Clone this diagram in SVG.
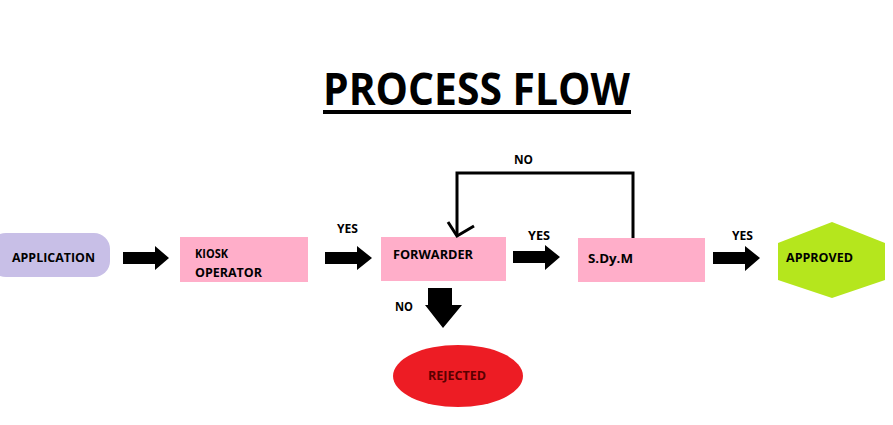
<svg xmlns="http://www.w3.org/2000/svg" width="893" height="425" viewBox="0 0 893 425">
<style>
.t{font-family:"Open Sans","Liberation Sans",sans-serif;font-weight:bold;fill:#000;font-size:12px}
.arr{fill:#000}
</style>
<rect width="893" height="425" fill="#fff"/>
<g id="title">
<text x="323" y="105" font-family="Open Sans, Liberation Sans, sans-serif" font-weight="bold" font-size="44" textLength="307" lengthAdjust="spacingAndGlyphs">PROCESS FLOW</text>
<rect x="323" y="110" width="308" height="4" fill="#000"/>
</g>
<g id="application">
<rect x="-10" y="233" width="120" height="44" rx="16" fill="#c8bfe7"/>
<text class="t" x="12" y="262" textLength="83" lengthAdjust="spacingAndGlyphs">APPLICATION</text>
</g>
<g id="kiosk">
<rect x="180" y="237" width="128" height="45" fill="#ffaec9"/>
<text class="t" x="195" y="258" textLength="33" lengthAdjust="spacingAndGlyphs">KIOSK</text>
<text class="t" x="195" y="277" textLength="67" lengthAdjust="spacingAndGlyphs">OPERATOR</text>
</g>
<g id="forwarder">
<rect x="381" y="237" width="125" height="44" fill="#ffaec9"/>
<text class="t" x="393" y="259" textLength="80" lengthAdjust="spacingAndGlyphs">FORWARDER</text>
</g>
<g id="sdym">
<rect x="578" y="238" width="127" height="44" fill="#ffaec9"/>
<text class="t" x="588" y="263" textLength="45" lengthAdjust="spacingAndGlyphs">S.Dy.M</text>
</g>
<g id="approved">
<polygon points="832,222 885,243 885,280 832,298 778,280 778,243" fill="#b5e61d"/>
<text class="t" x="786" y="262" textLength="67" lengthAdjust="spacingAndGlyphs">APPROVED</text>
</g>
<g id="rejected">
<ellipse cx="458" cy="376" rx="65" ry="31" fill="#ed1c24"/>
<text class="t" x="428" y="380" fill="#5a0000" style="fill:#5a0000" textLength="58" lengthAdjust="spacingAndGlyphs">REJECTED</text>
</g>
<g id="connectors">
<polygon class="arr" points="123,252 155,252 155,246 169,258 155,270 155,264 123,264"/>
<polygon class="arr" points="325,252 357,252 357,246 372,258 357,270 357,264 325,264"/>
<polygon class="arr" points="513,251 545,251 545,245 560,257 545,270 545,263 513,263"/>
<polygon class="arr" points="713,252 745,252 745,246 760,258 745,271 745,264 713,264"/>
<polygon class="arr" points="428,288 452,288 452,305 462,305 443,328 425,305 428,305"/>
<polyline points="633,238 633,173 457,173 457,236" fill="none" stroke="#000" stroke-width="3"/>
<polyline points="448,222 457,236 474,226" fill="none" stroke="#000" stroke-width="3"/>
<text class="t" x="337" y="233" font-size="11" textLength="21" lengthAdjust="spacingAndGlyphs">YES</text>
<text class="t" x="528" y="240" font-size="11" textLength="22" lengthAdjust="spacingAndGlyphs">YES</text>
<text class="t" x="732" y="240" font-size="11" textLength="21" lengthAdjust="spacingAndGlyphs">YES</text>
<text class="t" x="514" y="164" font-size="11" textLength="19" lengthAdjust="spacingAndGlyphs">NO</text>
<text class="t" x="395" y="311" font-size="11" textLength="18" lengthAdjust="spacingAndGlyphs">NO</text>
</g>
</svg>
